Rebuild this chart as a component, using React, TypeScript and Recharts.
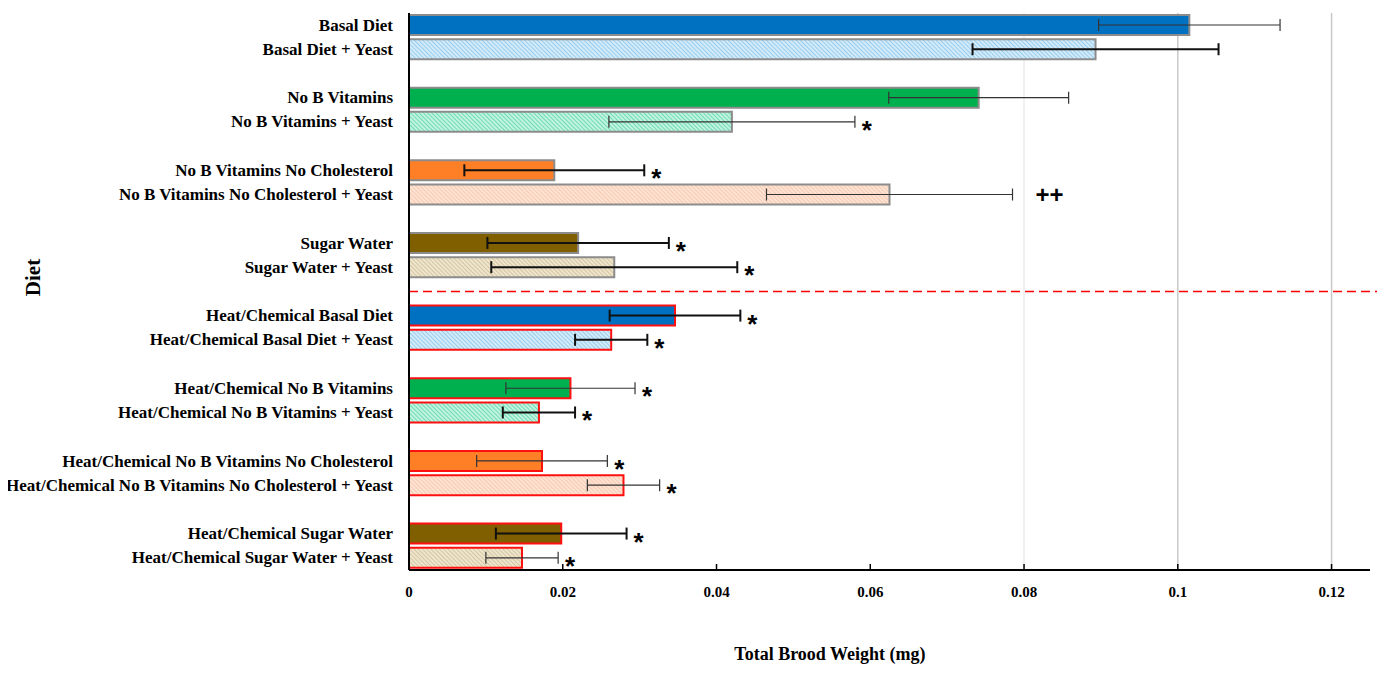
import { BarChart, Bar, XAxis, YAxis, Cell, ErrorBar, LabelList, ReferenceLine, CartesianGrid, Label } from 'recharts'

const labels = [
  'Basal Diet',
  'Basal Diet + Yeast',
  'No B Vitamins',
  'No B Vitamins + Yeast',
  'No B Vitamins No Cholesterol',
  'No B Vitamins No Cholesterol + Yeast',
  'Sugar Water',
  'Sugar Water + Yeast',
  'Heat/Chemical Basal Diet',
  'Heat/Chemical Basal Diet + Yeast',
  'Heat/Chemical No B Vitamins',
  'Heat/Chemical No B Vitamins + Yeast',
  'Heat/Chemical No B Vitamins No Cholesterol',
  'Heat/Chemical No B Vitamins No Cholesterol + Yeast',
  'Heat/Chemical Sugar Water',
  'Heat/Chemical Sugar Water + Yeast',
]

// mean brood weight (mg) and error
const weights = [0.1015, 0.0893, 0.0741, 0.042, 0.0189, 0.0625, 0.022, 0.0267, 0.0346, 0.0263, 0.021, 0.0169, 0.0173, 0.0279, 0.0198, 0.0147]
const errors = [0.0118, 0.016, 0.0117, 0.016, 0.0117, 0.016, 0.0118, 0.016, 0.0085, 0.0047, 0.0084, 0.0047, 0.0085, 0.0047, 0.0085, 0.0047]
const marks = ['', '', '', '*', '*', '++', '*', '*', '*', '*', '*', '*', '*', '*', '*', '*']
const xTicks = [0, 0.02, 0.04, 0.06, 0.08, 0.1, 0.12]

// styling only
const thickErr = [false, true, false, false, true, false, true, true, true, true, false, true, false, false, true, false]
const fills = ['#0070C0', 'url(#hBlue)', '#00B04F', 'url(#hGreen)', '#FF7F27', 'url(#hPeach)', '#7F5F00', 'url(#hTan)']

type Row = {
  key: string
  label: string
  value: number | null
  errThick?: number
  errThin?: number
  err: number
  mark: string
  idx: number
}

const rows: Row[] = []
labels.forEach((label, i) => {
  rows.push({
    key: 'b' + i,
    label,
    value: weights[i],
    errThick: thickErr[i] ? errors[i] : undefined,
    errThin: thickErr[i] ? undefined : errors[i],
    err: errors[i],
    mark: marks[i],
    idx: i,
  })
  if (i % 2 === 1 && i < labels.length - 1)
    rows.push({ key: 'g' + i, label: '', value: null, err: 0, mark: '', idx: -1 })
})

const labelOf: Record<string, string> = {}
rows.forEach((r) => (labelOf[r.key] = r.label))

const SERIF = '"Liberation Serif", "Times New Roman", serif'
const SANS = '"Liberation Sans", Arial, sans-serif'

const YTick = ({ x, y, payload }: any) => (
  <text x={x} y={y} textAnchor="end" dominantBaseline="central" fontFamily={SERIF} fontWeight="bold" fontSize={17} fill="#000">
    {labelOf[payload.value]}
  </text>
)

const XTick = ({ x, y, payload }: any) => (
  <g>
    {payload.value !== 0 && <line x1={x} x2={x} y1={y - 6} y2={y} stroke="#000" strokeWidth={1.5} />}
    <text x={x} y={y + 27} textAnchor="middle" fontFamily={SERIF} fontWeight="bold" fontSize={15} fill="#000">
      {payload.value}
    </text>
  </g>
)

const markValue = (d: Row) => (d.mark ? `${d.mark}|${d.err / (d.value || 1)}` : '')

const Mark = ({ x, y, width, height, value }: any) => {
  if (!value) return null
  const [m, ratio] = String(value).split('|')
  const end = x + width * (1 + Number(ratio))
  const cy = y + height / 2
  if (m === '++')
    return (
      <text x={end + 23} y={cy + 8} fontFamily={SANS} fontWeight="bold" fontSize={24} fill="#000">
        {m}
      </text>
    )
  return (
    <text x={end + 12} y={cy + 17} textAnchor="middle" fontFamily={SANS} fontWeight="bold" fontSize={26} fill="#000">
      {m}
    </text>
  )
}

const gridAt = (vals: number[]) => (props: any) =>
  vals.map((v) => {
    const s = props?.xAxis?.scale
    if (typeof s === 'function') return s(v)
    if (s && typeof s.map === 'function') return s.map(v)
    return props.offset.left + (v / 0.125) * props.offset.width
  })

const App = () => (
  <div style={{ margin: -8 }}>
    <BarChart
      width={1385}
      height={673}
      data={rows}
      layout="vertical"
      margin={{ top: 13, right: 15, bottom: 0, left: 0 }}
    >
      <defs>
        <pattern id="hBlue" width="3" height="3" patternUnits="userSpaceOnUse" patternTransform="rotate(-45)">
          <rect width="3" height="3" fill="#D3EBF9" />
          <line x1="0" y1="0" x2="0" y2="3" stroke="#84C3EC" strokeWidth="1.5" />
        </pattern>
        <pattern id="hGreen" width="3" height="3" patternUnits="userSpaceOnUse" patternTransform="rotate(-45)">
          <rect width="3" height="3" fill="#C2F2E0" />
          <line x1="0" y1="0" x2="0" y2="3" stroke="#52D6A6" strokeWidth="1.5" />
        </pattern>
        <pattern id="hPeach" width="3" height="3" patternUnits="userSpaceOnUse" patternTransform="rotate(-45)">
          <rect width="3" height="3" fill="#FDE3D4" />
          <line x1="0" y1="0" x2="0" y2="3" stroke="#F7C2A4" strokeWidth="1.5" />
        </pattern>
        <pattern id="hTan" width="3" height="3" patternUnits="userSpaceOnUse" patternTransform="rotate(-45)">
          <rect width="3" height="3" fill="#EEE5CF" />
          <line x1="0" y1="0" x2="0" y2="3" stroke="#CDBC8E" strokeWidth="1.5" />
        </pattern>
      </defs>
      <CartesianGrid horizontal={false} stroke="#ececec" strokeWidth={1.5} verticalCoordinatesGenerator={gridAt([0.08])} />
      <CartesianGrid horizontal={false} stroke="#c9c9c9" strokeWidth={1.5} verticalCoordinatesGenerator={gridAt([0.1, 0.12])} />
      <XAxis
        type="number"
        domain={[0, 0.125]}
        ticks={xTicks}
        height={103}
        tickSize={0}
        tickMargin={0}
        tickLine={false}
        axisLine={{ stroke: '#000', strokeWidth: 2 }}
        tick={<XTick />}
      >
        <Label
          content={({ viewBox }: any) => (
            <text
              x={viewBox.x + viewBox.width * 0.438}
              y={viewBox.y + 90}
              textAnchor="middle"
              fontFamily={SERIF}
              fontWeight="bold"
              fontSize={18}
              fill="#000"
            >
              Total Brood Weight (mg)
            </text>
          )}
        />
      </XAxis>
      <YAxis
        type="category"
        dataKey="key"
        width={409}
        interval={0}
        tickLine={false}
        tickSize={0}
        tickMargin={16}
        axisLine={{ stroke: '#000', strokeWidth: 2 }}
        tick={<YTick />}
      >
        <Label
          content={({ viewBox }: any) => {
            const cx = viewBox.x + 33
            const cy = viewBox.y + viewBox.height / 2 - 14
            return (
              <text
                transform={`translate(${cx},${cy}) rotate(-90)`}
                textAnchor="middle"
                dominantBaseline="central"
                fontFamily={SERIF}
                fontWeight="bold"
                fontSize={21}
                fill="#000"
              >
                Diet
              </text>
            )
          }}
        />
      </YAxis>
      <Bar dataKey="value" barSize={20} strokeWidth={2} isAnimationActive={false}>
        {rows.map((r) => (
          <Cell
            key={r.key}
            fill={r.idx < 0 ? 'none' : fills[r.idx % 8]}
            stroke={r.idx < 8 ? '#8C8C8C' : '#FF1010'}
          />
        ))}
        <ErrorBar dataKey="errThick" direction="x" width={6} stroke="#111" strokeWidth={2} />
        <ErrorBar dataKey="errThin" direction="x" width={6} stroke="#333" strokeWidth={1.2} />
        <LabelList dataKey={markValue} content={<Mark />} />
      </Bar>
      <ReferenceLine
        segment={[
          { x: 0, y: 'g7' },
          { x: 0.127, y: 'g7' },
        ]}
        stroke="#FF0000"
        strokeWidth={1.6}
        strokeDasharray="9 5"
        ifOverflow="visible"
      />
    </BarChart>
  </div>
)

export default App
